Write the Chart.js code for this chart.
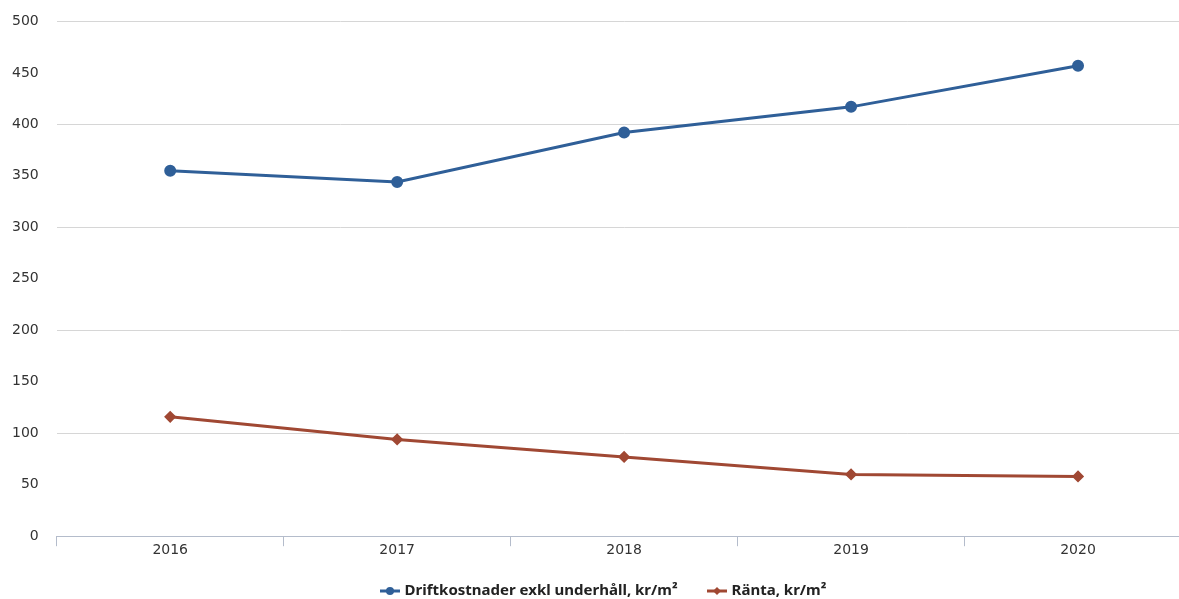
<!DOCTYPE html>
<html>
<head>
<meta charset="utf-8">
<script src="https://cdn.jsdelivr.net/npm/chart.js@4"></script>
<style>
  html, body { margin: 0; padding: 0; background: #fff; overflow: hidden; }
  #wrap { position: relative; width: 1179px; height: 599px; overflow: hidden; }
  #chart { position: absolute; left: -6px; top: -5px; }
  #legend { position: absolute; left: 0; width: 1205px; top: 579px; text-align: center;
            font-family: "Noto Sans", sans-serif; font-weight: bold; font-size: 15px; color: #222; }
  #legend span.item { display: inline-block; margin: 0 14px; white-space: nowrap; }
  #legend svg { vertical-align: middle; margin-right: 4px; }
</style>
</head>
<body>
<div id="wrap">
  <canvas id="chart" width="1205" height="605"></canvas>
  <div id="legend"></div>
</div>
<script>
// Kategorier (år)
const years = ['2016', '2017', '2018', '2019', '2020'];

// Serier, kr/m²
const driftkostnader = [355, 344, 392, 417, 457];
const ranta = [116, 94, 77, 60, 58];

const seriesNames = ['Driftkostnader exkl underhåll, kr/m²', 'Ränta, kr/m²'];
const blue = '#2f5f98';
const red = '#a04833';

const data = {
    labels: years,
    datasets: [{
        label: seriesNames[0],
        data: driftkostnader,
        borderColor: blue,
        backgroundColor: blue,
        borderWidth: 3,
        pointStyle: 'circle',
        pointRadius: 4.5,
        tension: 0
    }, {
        label: seriesNames[1],
        data: ranta,
        borderColor: red,
        backgroundColor: red,
        borderWidth: 3,
        pointStyle: 'rectRot',
        pointRadius: 4,
        tension: 0
    }]
};

const config = {
    type: 'line',
    data: data,
    options: {
        responsive: false,
        animation: false,
        layout: { padding: { left: 0, top: 5, right: 0, bottom: 45 } },
        plugins: { legend: { display: false }, tooltip: { enabled: false } },
        scales: {
            x: {
                offset: true,
                grid: {
                    offset: true,
                    drawOnChartArea: false,
                    drawTicks: true,
                    tickLength: 10,
                    color: '#b4bccb'
                },
                border: { display: true, color: '#b4bccb', width: 1 },
                ticks: {
                    color: '#333',
                    font: { family: 'DejaVu Sans', size: 14 },
                    padding: -4
                }
            },
            y: {
                min: 0,
                max: 500,
                ticks: {
                    stepSize: 50,
                    color: '#333',
                    padding: 18,
                    font: { family: 'DejaVu Sans', size: 14 }
                },
                grid: {
                    drawTicks: false,
                    color: ctx => (ctx.tick && ctx.tick.value % 100 === 0) ? '#d6d6d6' : 'rgba(0,0,0,0)'
                },
                border: { display: false }
            }
        }
    }
};

const chart = new Chart(document.getElementById('chart'), config);

// Legend under the chart
const legend = document.getElementById('legend');
const icons = [
    c => `<svg width="22" height="12"><line x1="1" y1="6" x2="21" y2="6" stroke="${c}" stroke-width="3"/><circle cx="11" cy="6" r="4" fill="${c}"/></svg>`,
    c => `<svg width="22" height="12"><line x1="1" y1="6" x2="21" y2="6" stroke="${c}" stroke-width="3"/><polygon points="11,2 15,6 11,10 7,6" fill="${c}"/></svg>`
];
[blue, red].forEach((c, i) => {
    const s = document.createElement('span');
    s.className = 'item';
    s.innerHTML = icons[i](c) + seriesNames[i];
    legend.appendChild(s);
});
</script>
</body>
</html>
